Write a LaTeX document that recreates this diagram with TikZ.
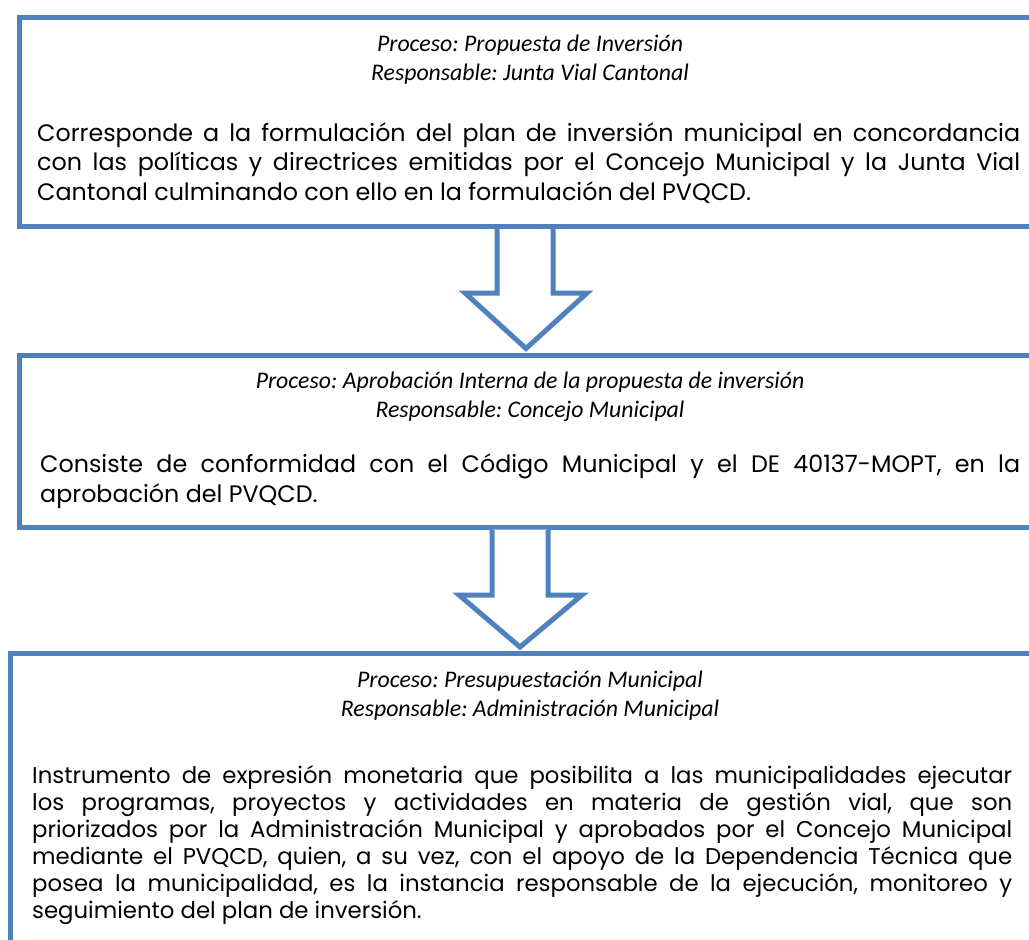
\documentclass[tikz,border=0pt]{standalone}
\usepackage{fontspec}
\usetikzlibrary{calc}
\setmainfont{Poppins}
\newfontfamily\hdrfont{Carlito}
\definecolor{officeblue}{HTML}{4F81BD}
\frenchspacing
\begin{document}
\begin{tikzpicture}[x=1pt,y=-1pt,
  box/.style={draw=officeblue,line width=5pt,anchor=north west,inner sep=0pt,line join=miter},
  bigarrow/.style={draw=officeblue,fill=white,line width=5pt,line join=miter},
  hdr/.style={anchor=base,inner sep=0pt,font=\frenchspacing\hdrfont\itshape\fontsize{23.8}{28}\selectfont},
  jline/.style={anchor=base west,inner sep=0pt,font=\frenchspacing\fontsize{23.8}{29}\selectfont},
  kline/.style={anchor=base west,inner sep=0pt,font=\frenchspacing\fontsize{22.8}{27}\selectfont}]
\useasboundingbox (0,0) rectangle (1029,940);
% boxes
\node[box,minimum width=1030pt,minimum height=209pt] (b1) at (16.5,15) {};
\node[box,minimum width=1030pt,minimum height=172pt] (b2) at (16.5,352.5) {};
\node[box,minimum width=1040pt,minimum height=320pt] (b3) at (7.5,651) {};
% arrows
\path (b1.south -| 525,0) coordinate (a1top);
\path (b2.north -| 526,0) coordinate (a1tip);
\path (b2.south -| 520,0) coordinate (a2top);
\path (b3.north -| 520,0) coordinate (a2tip);
\draw[bigarrow] ($(a1top)+(-28,0)$) -- ++(0,64) -- ++(-32,0) -- ($(a1tip)+(0,-4)$) -- ($(a1top)+(62,64)$) -- ++(-34,0) -- ++(0,-64);
\draw[bigarrow] ($(a2top)+(-28,0)$) -- ++(0,65.5) -- ++(-33,0) -- ($(a2tip)+(0,-4)$) -- ($(a2top)+(62,65.5)$) -- ++(-34,0) -- ++(0,-65.5);
% box 1 text
\node[hdr] (h11) at (530,51) {Proceso: Propuesta de Inversión};
\node[hdr] (h12) at (530,80) {Responsable: Junta Vial Cantonal};
\node[jline] (t11) at (37,141) {\makebox[983pt][s]{Corresponde a la formulación del plan de inversión municipal en concordancia}};
\node[jline] (t12) at (37,170.5) {\makebox[983pt][s]{con las políticas y directrices emitidas por el Concejo Municipal y la Junta Vial}};
\node[jline] (t13) at (37,200) {Cantonal culminando con ello en la formulación del PVQCD.};
% box 2 text
\node[hdr] (h21) at (530,388) {Proceso: Aprobación Interna de la propuesta de inversión};
\node[hdr] (h22) at (530,417) {Responsable: Concejo Municipal};
\node[jline] (t21) at (40,472) {\makebox[980pt][s]{Consiste de conformidad con el Código Municipal y el DE 40137-MOPT, en la}};
\node[jline] (t22) at (40,502) {aprobación del PVQCD.};
% box 3 text
\node[hdr] (h31) at (530,687) {Proceso: Presupuestación Municipal};
\node[hdr] (h32) at (530,716) {Responsable: Administración Municipal};
\node[kline] (t31) at (32,783.5) {\makebox[980pt][s]{Instrumento de expresión monetaria que posibilita a las municipalidades ejecutar}};
\node[kline] (t32) at (32,810.5) {\makebox[980pt][s]{los programas, proyectos y actividades en materia de gestión vial, que son}};
\node[kline] (t33) at (32,837.5) {\makebox[980pt][s]{priorizados por la Administración Municipal y aprobados por el Concejo Municipal}};
\node[kline] (t34) at (32,864.5) {\makebox[980pt][s]{mediante el PVQCD, quien, a su vez, con el apoyo de la Dependencia Técnica que}};
\node[kline] (t35) at (32,891.5) {\makebox[980pt][s]{posea la municipalidad, es la instancia responsable de la ejecución, monitoreo y}};
\node[kline] (t36) at (32,918.5) {seguimiento del plan de inversión.};
\end{tikzpicture}
\end{document}
